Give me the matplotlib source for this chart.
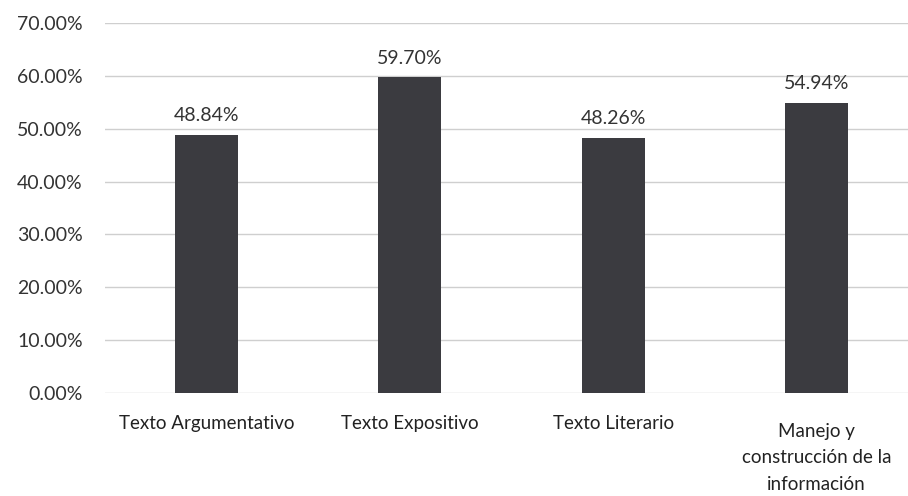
import matplotlib
matplotlib.use("Agg")
import matplotlib.pyplot as plt
from matplotlib.ticker import PercentFormatter

categorias = ["Texto Argumentativo", "Texto Expositivo", "Texto Literario",
              "Manejo y\nconstrucción de la\ninformación"]
valores = [48.84, 59.70, 48.26, 54.94]
ticks_y = [0, 10, 20, 30, 40, 50, 60, 70]

plt.rcParams["font.family"] = ["Lato", "DejaVu Sans"]

fig = plt.figure(figsize=(9.08, 4.96), dpi=100)
ax = fig.add_axes([105 / 908, 0.2077, 813 / 908, 0.746])

pos = list(range(len(categorias)))
barras = ax.bar(pos, valores, width=0.31, color="#3b3b40", zorder=2)

for b, v in zip(barras, valores):
    ax.text(b.get_x() + b.get_width() / 2, v + 2.0, f"{v:.2f}%",
            ha="center", va="bottom", fontsize=14, color="#333333")

ax.set_xlim(-0.5, 3.5)
ax.set_ylim(0, 70)
ax.set_yticks(ticks_y)
ax.yaxis.set_major_formatter(PercentFormatter(decimals=2))
ax.set_xticks(pos)
ax.set_xticklabels(categorias, fontsize=13.5, color="#222222", linespacing=1.7)
# la etiqueta de varias lineas baja un poco respecto a las demas
ax.get_xticklabels()[3].set_y(-0.02)
ax.tick_params(axis="y", labelsize=14, labelcolor="#333333", length=0, pad=16)
ax.tick_params(axis="x", length=0, pad=16)
ax.grid(axis="y", color="#cfcfcf", linewidth=1, zorder=0)
for s in ax.spines.values():
    s.set_visible(False)

fig.savefig("out.png", dpi=100)
